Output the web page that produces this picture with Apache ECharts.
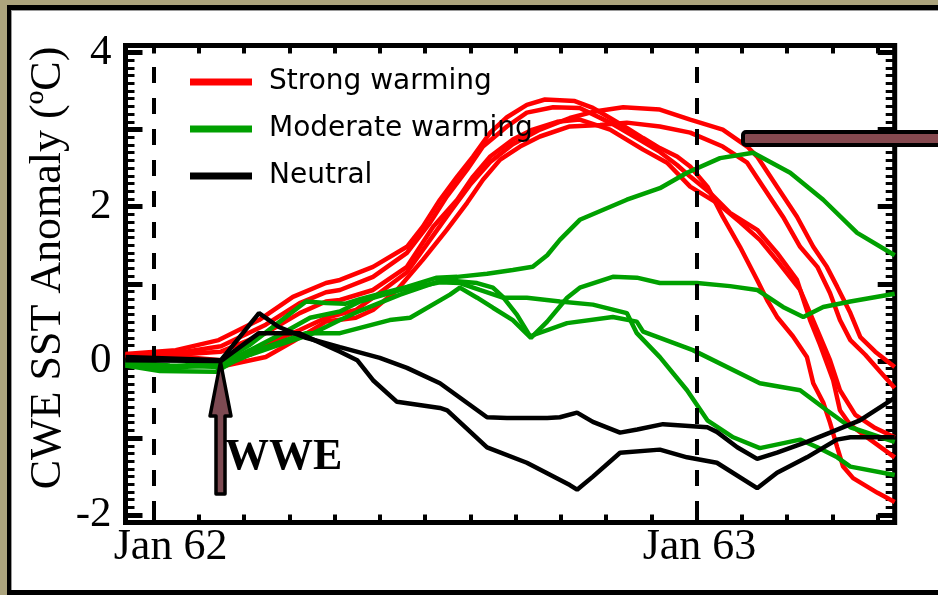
<!DOCTYPE html>
<html><head><meta charset="utf-8">
<script src="https://cdn.jsdelivr.net/npm/echarts@6/dist/echarts.min.js"></script>
<style>html,body{margin:0;padding:0;background:#aca47d;}#c{width:938px;height:595px;}</style>
</head><body><div id="c"></div>
<script>
// x = months since Jan 1962, y = CWE SST anomaly (deg C)
const monthTicks = [0,1,2,3,4,5,6,7,8,9,10,11,12,13,14,15,16];
const xLabelValues = [0, 12];
const xLabelNames = ['Jan 62', 'Jan 63'];
const yLabelValues = [-2, 0, 2, 4];
const yMajorTicks = [-2, -1, 0, 1, 2, 3, 4];
const yMinorTicks = [];
for (let i = -20; i <= 40; i++) yMinorTicks.push(i / 10);

const strong1 = [[-0.62,0.09],[0.49,0.14],[1.44,0.27],[2.33,0.53],[3.08,0.83],[3.81,1.01],[4.12,1.05],[4.85,1.22],[5.60,1.48],[5.95,1.74],[6.33,2.09],[6.71,2.39],[7.06,2.65],[7.44,2.96],[7.81,3.16],[8.25,3.32],[8.65,3.39],[9.31,3.37],[9.71,3.28],[10.09,3.15],[10.46,3.02],[10.82,2.89],[11.19,2.76],[11.57,2.65],[11.86,2.52],[12.24,2.26],[12.58,1.87],[12.96,1.48],[13.34,1.05],[13.56,0.79],[13.78,0.57],[14.13,0.32],[14.44,0.05],[14.58,-0.29],[14.80,-0.54],[14.95,-0.80],[15.11,-1.12],[15.24,-1.37],[15.46,-1.52],[16.00,-1.71],[16.38,-1.83]];
const strong2 = [[-0.62,0.08],[0.49,0.10],[1.49,0.19],[2.48,0.47],[3.23,0.75],[3.81,0.89],[4.12,0.92],[4.85,1.09],[5.60,1.40],[6.11,1.79],[6.48,2.13],[6.93,2.48],[7.28,2.78],[7.81,3.04],[8.25,3.22],[8.83,3.29],[9.42,3.28],[10.09,3.09],[10.82,2.84],[11.19,2.71],[11.57,2.54],[11.86,2.39],[12.30,2.18],[12.74,1.92],[13.34,1.70],[13.78,1.40],[14.22,1.05],[14.51,0.53],[14.73,0.21],[15.02,-0.25],[15.17,-0.64],[15.40,-0.83],[15.84,-1.02],[16.38,-1.25]];
const strong3 = [[-0.62,0.06],[0.49,0.08],[1.49,0.12],[2.48,0.36],[3.23,0.62],[3.81,0.77],[4.12,0.79],[4.85,0.92],[5.60,1.22],[6.18,1.74],[6.71,2.09],[7.06,2.39],[7.44,2.65],[7.94,2.87],[8.38,3.00],[8.92,3.10],[9.42,3.13],[10.09,3.00],[10.82,2.74],[11.35,2.57],[11.86,2.26],[12.45,2.05],[12.96,1.80],[13.40,1.57],[13.85,1.25],[14.29,0.92],[14.67,0.40],[14.95,0.01],[15.17,-0.38],[15.51,-0.70],[15.95,-0.87],[16.38,-0.99]];
const strong4 = [[-0.62,0.05],[0.49,0.04],[1.60,-0.06],[2.48,0.05],[3.08,0.25],[3.81,0.51],[4.47,0.56],[4.85,0.66],[5.38,0.92],[5.95,1.31],[6.48,1.70],[6.93,2.05],[7.28,2.35],[7.66,2.61],[8.10,2.78],[8.54,2.91],[9.20,3.04],[9.87,3.06],[10.46,3.09],[11.19,3.04],[11.86,2.96],[12.58,2.78],[13.12,2.57],[13.47,2.26],[13.91,1.87],[14.29,1.48],[14.67,1.22],[14.95,0.88],[15.17,0.53],[15.40,0.27],[15.73,0.08],[16.06,-0.14],[16.38,-0.35]];
const strong5 = [[-0.62,0.08],[0.49,0.06],[1.49,0.01],[2.13,0.08],[2.70,0.27],[3.23,0.40],[3.81,0.56],[4.47,0.66],[4.85,0.82],[5.60,1.15],[6.11,1.57],[6.55,1.93],[6.99,2.28],[7.44,2.58],[7.94,2.81],[8.54,3.00],[9.20,3.15],[9.71,3.23],[10.38,3.29],[11.19,3.26],[11.86,3.13],[12.58,3.00],[13.12,2.78],[13.34,2.65],[13.78,2.26],[14.22,1.87],[14.58,1.48],[14.88,1.22],[15.11,0.96],[15.40,0.62],[15.62,0.31],[15.95,0.12],[16.38,-0.08]];

const moderate1 = [[-0.62,-0.04],[0.36,-0.08],[1.49,-0.01],[2.13,0.21],[2.79,0.51],[3.37,0.77],[3.81,0.75],[4.23,0.74],[4.56,0.80],[5.00,0.87],[5.60,0.96],[6.26,1.08],[6.71,1.09],[7.37,1.13],[7.94,1.18],[8.38,1.22],[8.70,1.37],[8.98,1.57],[9.42,1.83],[10.46,2.09],[11.19,2.24],[11.79,2.44],[12.52,2.63],[13.25,2.70],[14.07,2.44],[14.80,2.09],[15.55,1.66],[16.38,1.37]];
const moderate2 = [[-0.62,-0.06],[0.14,-0.13],[1.38,-0.14],[1.82,0.01],[2.48,0.18],[3.37,0.36],[4.12,0.36],[5.22,0.53],[5.67,0.56],[6.55,0.86],[6.77,0.95],[7.15,0.82],[7.50,0.69],[7.94,0.53],[8.34,0.30],[8.70,0.51],[9.14,0.82],[9.42,0.95],[10.15,1.09],[10.68,1.08],[11.19,1.01],[12.01,1.01],[12.74,0.97],[13.34,0.92],[13.91,0.70],[14.36,0.57],[14.80,0.70],[15.40,0.77],[16.38,0.87]];
const moderate3 = [[-0.62,-0.01],[0.36,-0.06],[1.49,-0.08],[2.13,0.08],[2.79,0.21],[3.46,0.34],[4.12,0.53],[4.56,0.65],[5.45,0.86],[6.40,1.05],[7.15,1.01],[7.50,0.95],[7.72,0.83],[8.03,0.60],[8.32,0.32],[9.14,0.49],[10.15,0.57],[10.68,0.51],[10.82,0.38],[11.92,0.14],[13.40,-0.29],[14.29,-0.38],[14.88,-0.64],[15.40,-0.86],[16.38,-1.05]];
const moderate4 = [[-0.62,-0.06],[0.36,-0.09],[1.49,-0.05],[2.13,0.14],[2.79,0.34],[3.46,0.56],[4.12,0.64],[4.56,0.77],[5.45,0.92],[6.33,1.02],[6.77,1.01],[7.21,0.92],[7.72,0.82],[8.25,0.82],[8.98,0.77],[9.71,0.73],[10.46,0.62],[10.68,0.36],[11.19,0.05],[11.79,-0.38],[12.24,-0.77],[12.81,-0.99],[13.40,-1.13],[14.29,-1.02],[14.67,-1.12],[15.11,-1.25],[15.40,-1.37],[16.38,-1.48]];

const neutral1 = [[-0.62,0.05],[1.49,0.01],[2.33,0.62],[2.77,0.44],[3.37,0.30],[4.12,0.18],[5.00,0.04],[5.60,-0.09],[6.33,-0.29],[7.37,-0.73],[7.81,-0.74],[8.70,-0.74],[8.98,-0.73],[9.36,-0.67],[9.71,-0.79],[10.31,-0.93],[10.69,-0.89],[11.26,-0.82],[12.24,-0.86],[12.45,-0.92],[12.90,-1.12],[13.34,-1.27],[13.78,-1.19],[14.44,-1.05],[14.95,-0.93],[15.61,-0.77],[16.38,-0.48]];
const neutral2 = [[-0.62,0.01],[1.49,0.00],[2.33,0.36],[3.21,0.36],[4.12,0.12],[4.50,0.01],[4.85,-0.25],[5.38,-0.53],[6.33,-0.61],[6.49,-0.64],[7.37,-1.12],[8.25,-1.32],[9.20,-1.61],[9.36,-1.67],[9.71,-1.50],[10.31,-1.19],[11.19,-1.15],[11.79,-1.25],[12.45,-1.32],[13.34,-1.65],[13.78,-1.45],[14.44,-1.25],[15.10,-1.02],[15.40,-0.99],[16.38,-0.99]];

const groupNames = ['Strong warming', 'Moderate warming', 'Neutral'];
const groupColors = ['#ff0000', '#00a000', '#000000'];
const groups = [[strong1, strong2, strong3, strong4, strong5], [moderate1, moderate2, moderate3, moderate4], [neutral1, neutral2]];
const eventLines = [0, 12];

const chart = echarts.init(document.getElementById('c'), null, {renderer: 'canvas'});
const serif = 'Liberation Serif';
const series = [];
[1, 0, 2].forEach(function (g) {
  groups[g].forEach(function (d) {
    series.push({
      name: groupNames[g], type: 'line', data: d, symbol: 'none', smooth: false,
      lineStyle: {width: 4.5, color: groupColors[g]}, itemStyle: {color: groupColors[g]},
      z: 3 + g, animation: false, silent: true
    });
  });
});
series.push({
  name: 'events', type: 'line', data: [], symbol: 'none', z: 2, silent: true, animation: false,
  markLine: {
    symbol: 'none', silent: true, animation: false, label: {show: false},
    lineStyle: {color: '#000', width: 4, type: [16, 15]},
    data: eventLines.map(function (m) { return [{coord: [m, 3.81]}, {coord: [m, -2.095]}]; })
  }
});

function yAxisDef(pos, ticks, len, w, labels) {
  return {
    type: 'value', position: pos, min: -2.095, max: 4.09,
    axisLine: {show: false, onZero: false}, splitLine: {show: false},
    axisTick: {show: true, inside: true, length: len, customValues: ticks, lineStyle: {color: '#000', width: w}},
    axisLabel: labels ? {show: true, customValues: yLabelValues, margin: 14, color: '#000', fontFamily: serif, fontSize: 43} : {show: false}
  };
}
function xAxisDef(pos, labels) {
  return {
    type: 'value', position: pos, min: -0.62, max: 16.38,
    axisLine: {show: false, onZero: false}, splitLine: {show: false},
    axisTick: {show: true, inside: true, length: 8, customValues: monthTicks, lineStyle: {color: '#000', width: 4}},
    axisLabel: labels ? {
      show: true, customValues: xLabelValues, margin: 3, color: '#000', fontFamily: serif, fontSize: 44,
      formatter: function (v) { return v === 0 ? '{a|' + xLabelNames[0] + '}' : '{b|' + xLabelNames[1] + '}'; },
      rich: {
        a: {fontFamily: serif, fontSize: 44, color: '#000', padding: [0, 0, 0, 34]},
        b: {fontFamily: serif, fontSize: 44, color: '#000', padding: [0, 0, 0, 6]}
      }
    } : {show: false}
  };
}

chart.setOption({
  backgroundColor: '#aca47d',
  animation: false,
  grid: {left: 125.5, right: 43.3, top: 45.5, bottom: 72.5, show: true, borderWidth: 5, borderColor: '#000', backgroundColor: 'transparent', containLabel: false},
  xAxis: [xAxisDef('bottom', true), xAxisDef('top', false)],
  yAxis: [yAxisDef('left', yMajorTicks, 17, 5, true), yAxisDef('left', yMinorTicks, 9, 3, false),
          yAxisDef('right', yMajorTicks, 17, 5, false), yAxisDef('right', yMinorTicks, 9, 3, false)],
  legend: {
    data: groupNames, orient: 'vertical', left: 190, top: 68, itemWidth: 62, itemHeight: 7, itemGap: 19,
    icon: 'rect', padding: 0, selectedMode: false,
    textStyle: {fontFamily: 'DejaVu Sans', fontSize: 28, color: '#000', padding: [0, 0, 0, 12]}
  },
  series: series,
  graphic: [
    {type: 'rect', z: -100, silent: true, shape: {x: 7, y: 5, width: 960, height: 590}, style: {fill: '#000'}},
    {type: 'rect', z: -99, silent: true, shape: {x: 11, y: 10, width: 960, height: 580}, style: {fill: '#9a9a9a'}},
    {type: 'rect', z: -98, silent: true, shape: {x: 12, y: 11, width: 960, height: 579}, style: {fill: '#ffffff'}},
    {type: 'text', z: 50, silent: true, x: 48, y: 268, rotation: Math.PI / 2,
      style: {text: 'CWE SST Anomaly (ºC)', font: '44px "Liberation Serif"', fill: '#000', align: 'center', verticalAlign: 'middle'}},
    {type: 'text', z: 50, silent: true, x: 225, y: 458,
      style: {text: 'WWE', font: 'bold 44px "Liberation Serif"', fill: '#000', align: 'left', verticalAlign: 'middle'}},
    {type: 'polygon', z: 60, silent: true,
      shape: {points: [[220.5, 362], [231, 416], [225, 416], [225, 494], [216, 494], [216, 416], [210, 416]]},
      style: {fill: '#7d4a52', stroke: '#000', lineWidth: 3.5, lineJoin: 'round'}},
    {type: 'rect', z: 60, silent: true, shape: {x: 743, y: 132, width: 260, height: 13, r: [3, 0, 0, 3]},
      style: {fill: '#85494f', stroke: '#000', lineWidth: 4}}
  ]
});
</script></body></html>
